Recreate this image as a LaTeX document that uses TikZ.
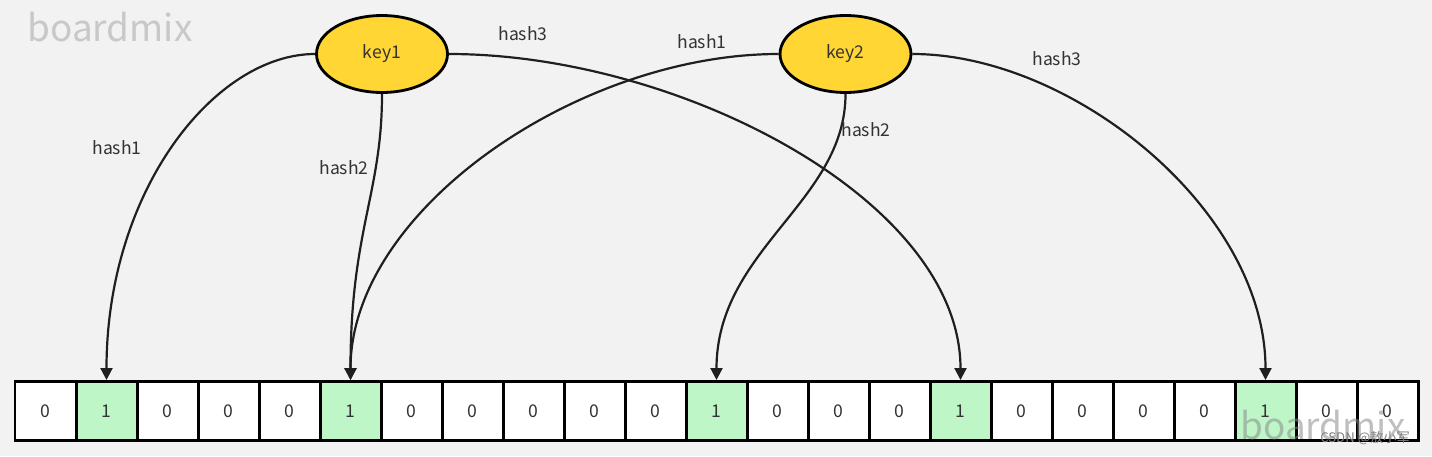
\documentclass[tikz,border=0pt]{standalone}
\usepackage{fontspec}
\setmainfont{Noto Sans CJK SC}
\newfontfamily\cjk{Noto Sans CJK SC}
\usetikzlibrary{shapes.geometric,arrows.meta}
\definecolor{canvas}{HTML}{F2F2F2}
\definecolor{keyfill}{HTML}{FFD633}
\definecolor{bitfill0}{HTML}{FFFFFF}
\definecolor{bitfill1}{HTML}{BEF6C8}
\definecolor{inkgray}{HTML}{333333}
\definecolor{markgray}{HTML}{C8C8C8}
\tikzset{
  key/.style={draw, ellipse, fill=keyfill, line width=1.6pt, minimum width=2.62cm, minimum height=1.54cm, inner sep=0pt, font=\fontsize{10}{12}\selectfont, text=inkgray},
  cell/.style={draw, line width=1.7pt, minimum width=1.22cm, minimum height=1.18cm, inner sep=0pt, font=\fontsize{10}{12}\selectfont, text=inkgray},
  hashlabel/.style={font=\fontsize{10}{12}\selectfont, text=inkgray},
  hasharrow/.style={-{Triangle[length=0.24cm,width=0.24cm]}, line width=1.25pt, draw=black!88}
}
\begin{document}
\begin{tikzpicture}[x=0.02cm, y=-0.02cm]
  \fill[canvas] (0,0) rectangle (1432,456);
  \useasboundingbox (0,0) rectangle (1432,456);
  \node[text=markgray, font=\fontsize{21}{24}\selectfont] (mark1) at (110,27) {boardmix};
  % the bit array
  \foreach \b [count=\i from 0] in {0,1,0,0,0,1,0,0,0,0,0,1,0,0,0,1,0,0,0,0,1,0,0}
    \node[cell, fill=bitfill\b] (c\i) at ({45.5+61*\i},411) {\b};
  % the two keys
  \node[key] (key1) at (382,54) {key1};
  \node[key] (key2) at (845.5,54) {key2};
  % hashes of key1
  \draw[hasharrow] (key1.west) .. controls +(-100,0) and +(0,-190) .. (c1.north);
  \draw[hasharrow] (key1.south) .. controls +(0,100) and +(0,-150) .. (c5.north);
  \draw[hasharrow] (key1.east) .. controls +(230,0) and +(0,-180) .. (c15.north);
  \node[hashlabel] (k1h1) at (117,148) {hash1};
  \node[hashlabel] (k1h2) at (344,168) {hash2};
  \node[hashlabel] (k1h3) at (523,34) {hash3};
  % hashes of key2
  \draw[hasharrow] (key2.west) .. controls +(-200,0) and +(0,-170) .. (c5.north);
  \draw[hasharrow] (key2.south) .. controls +(0,108) and +(0,-131) .. (c11.north);
  \draw[hasharrow] (key2.east) .. controls +(160,0) and +(0,-170) .. (c20.north);
  \node[hashlabel] (k2h1) at (702,42) {hash1};
  \node[hashlabel] (k2h2) at (866,130) {hash2};
  \node[hashlabel] (k2h3) at (1057,59) {hash3};
  % watermarks
  \node[text=black!45, opacity=0.55, font=\fontsize{21}{24}\selectfont] (mark2) at (1323,425) {boardmix};
  \node[text=black!50, font=\cjk\fontsize{7.5}{9}\selectfont] (mark3) at (1365,438) {CSDN @敖小军};
\end{tikzpicture}
\end{document}
